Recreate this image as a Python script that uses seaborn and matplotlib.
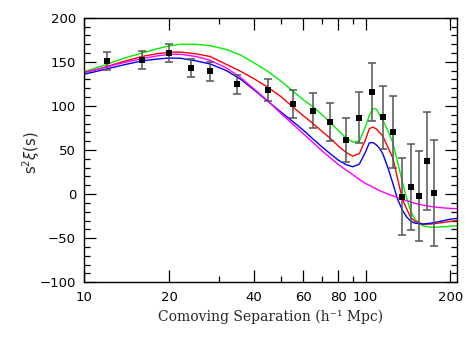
import numpy as np
import pandas as pd
import matplotlib
matplotlib.use("Agg")
import matplotlib.pyplot as plt
import seaborn as sns
from matplotlib.ticker import FixedLocator, NullFormatter, FixedFormatter, MultipleLocator

# ---- data ----
s_data = [12, 16, 20, 24, 28, 35, 45, 55, 65, 75, 85, 95, 105, 115, 125, 135, 145, 155, 165, 175]
xi_data = [151, 152, 160, 143, 139, 124.5, 118, 102, 94.6, 81.7, 61.3, 86.8, 116.1, 87, 70.7,
           -2.9, 8.4, -2.2, 37.2, 0.9]
xi_err = [10, 10, 10.5, 10.5, 10.6, 10.5, 13, 16, 19.6, 22, 25, 29, 33, 36, 40.6,
          43.5, 48.6, 51, 55.4, 60]

s_model = [10, 11, 12, 13, 14, 16, 18, 20, 22, 25, 28, 32, 36, 40, 45, 50, 55, 60, 65, 70,
           75, 80, 85, 90, 95, 100, 103, 106, 109, 112, 115, 120, 125, 130, 135, 140, 145,
           150, 160, 170, 180, 190, 200, 212]
green = [139, 143, 147, 151, 154.5, 160, 164.5, 168, 170, 169.8, 168.3, 164, 157.5, 149, 139,
         128, 117, 107, 99, 90, 81, 72, 64, 59, 60, 77, 89, 97, 96.5, 90, 84, 72, 58, 36, 14,
         -5, -20, -29, -36, -37.5, -37.5, -37, -36.5, -35.8]
red = [138, 141, 144.5, 148, 151, 156, 159, 160.8, 161, 159, 156, 147, 139, 131, 121, 110.5,
       99, 89, 80, 71, 63, 54.5, 47.5, 43, 46, 62, 74, 76, 74, 70, 66, 53, 41, 17, -5, -17, -27,
       -31, -34, -34, -33, -32, -31, -30]
blue = [136, 139, 142, 144.5, 147, 151, 153, 154.3, 154, 151, 147.5, 140, 130, 118.5, 105, 93,
        82.5, 72.5, 62.5, 53.5, 45.5, 38.5, 33.5, 31, 34, 48, 58, 58.5, 56, 52, 46, 30, 12, -6,
        -18, -26, -31, -33, -34, -33, -31.5, -30, -28.5, -27.5]
magenta = [138, 141, 144, 147, 149.5, 153.5, 156.5, 158.5, 158.5, 156, 151.7, 143, 132, 119.5,
           105.5, 91.5, 79.5, 68.5, 58.5, 49, 41, 33.5, 27.5, 22, 16.5, 12, 10, 8, 6, 4, 2.5, 0,
           -2, -4, -6, -7.5, -9, -10.5, -12.5, -14, -15, -15.7, -16.2, -16.5]

model_names = ["green", "red", "blue", "magenta"]
model_colors = ["#00ee00", "#ff0000", "#0000ff", "#ff00ff"]

x_major = [10, 20, 40, 60, 80, 100, 200]
x_major_labels = ["10", "20", "40", "60", "80", "100", "200"]
x_minor = [30, 50, 70, 90]

# ---- build tables ----
frames = []
for name, vals in zip(model_names, [green, red, blue, magenta]):
    frames.append(pd.DataFrame({"s": s_model, "xi": vals, "model": name}))
df_model = pd.concat(frames, ignore_index=True)
df_data = pd.DataFrame({"s": s_data, "xi": xi_data, "err": xi_err})

sns.set_style("ticks")
plt.rcParams["font.family"] = ["DejaVu Sans"]

fig = plt.figure(figsize=(4.74, 3.37), dpi=100)
ax = fig.add_axes([0.178, 0.1623, 0.787, 0.7852])
ax.set_xscale("log")

sns.lineplot(data=df_model, x="s", y="xi", hue="model", hue_order=model_names,
             palette=dict(zip(model_names, model_colors)), estimator=None,
             linewidth=1.0, legend=False, ax=ax, zorder=2)

ax.errorbar(df_data["s"], df_data["xi"], yerr=df_data["err"], fmt="none",
            ecolor="#555555", elinewidth=1.1, capsize=3, capthick=1.1, zorder=3)
sns.scatterplot(data=df_data, x="s", y="xi", marker="s", s=22, color="black",
                edgecolor="black", linewidth=0, ax=ax, zorder=4)

ax.set_xlim(10, 212)
ax.set_ylim(-100, 200)

ax.xaxis.set_major_locator(FixedLocator(x_major))
ax.xaxis.set_major_formatter(FixedFormatter(x_major_labels))
ax.xaxis.set_minor_locator(FixedLocator(x_minor))
ax.xaxis.set_minor_formatter(NullFormatter())
ax.yaxis.set_major_locator(MultipleLocator(50))
ax.yaxis.set_minor_locator(MultipleLocator(10))

ax.tick_params(which="both", direction="in", top=True, right=True, colors="black",
               labelsize=9.5, width=0.9)
ax.tick_params(which="major", length=8.5, pad=6)
ax.tick_params(which="minor", length=4.3)
for sp in ax.spines.values():
    sp.set_color("black")
    sp.set_linewidth(1.0)

ax.set_xlabel("Comoving Separation (h\u207b\u00b9 Mpc)", family="DejaVu Serif",
              fontsize=10, labelpad=4)
ax.set_ylabel(r"s$^2\xi$(s)", fontsize=10.5)
ax.yaxis.set_label_coords(-0.113, 0.49)

fig.savefig("out.png", dpi=100)
